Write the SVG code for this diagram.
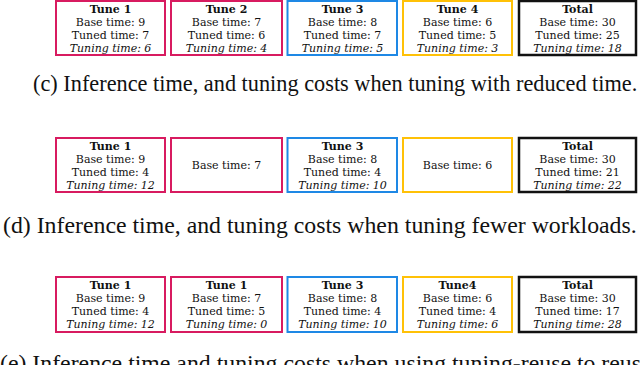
<svg xmlns="http://www.w3.org/2000/svg" width="640" height="365" viewBox="0 0 640 365">
<style>
.bx{fill:#fff;stroke-width:2}
.pk{stroke:#D81B60}
.bl{stroke:#1E88E5}
.yl{stroke:#FFC107}
.bk{stroke:#111;stroke-width:2.5}
.t{font-family:"DejaVu Serif",serif;font-size:11px;fill:#111;text-anchor:middle}
.h{font-weight:bold}
.i{font-style:italic}
.cap{font-family:"Liberation Serif","Times New Roman",serif;fill:#111}
</style>
<rect width="640" height="365" fill="#fff"/>
<g id="row-c">
<g id="c-tune1"><rect class="bx pk" x="56" y="1" width="109" height="54"/>
<text class="t h" x="110.5" y="12.5">Tune 1</text><text class="t" x="110.5" y="25.5">Base time: 9</text><text class="t" x="110.5" y="38.5">Tuned time: 7</text><text class="t i" x="110.5" y="51.5">Tuning time: 6</text></g>
<g id="c-tune2"><rect class="bx pk" x="171" y="1" width="111" height="54"/>
<text class="t h" x="226.5" y="12.5">Tune 2</text><text class="t" x="226.5" y="25.5">Base time: 7</text><text class="t" x="226.5" y="38.5">Tuned time: 6</text><text class="t i" x="226.5" y="51.5">Tuning time: 4</text></g>
<g id="c-tune3"><rect class="bx bl" x="287.5" y="1" width="109.5" height="54"/>
<text class="t h" x="342.5" y="12.5">Tune 3</text><text class="t" x="342.5" y="25.5">Base time: 8</text><text class="t" x="342.5" y="38.5">Tuned time: 7</text><text class="t i" x="342.5" y="51.5">Tuning time: 5</text></g>
<g id="c-tune4"><rect class="bx yl" x="403" y="1" width="109" height="54"/>
<text class="t h" x="457.5" y="12.5">Tune 4</text><text class="t" x="457.5" y="25.5">Base time: 6</text><text class="t" x="457.5" y="38.5">Tuned time: 5</text><text class="t i" x="457.5" y="51.5">Tuning time: 3</text></g>
<g id="c-total"><rect class="bx bk" x="519" y="1" width="117" height="54"/>
<text class="t h" x="577.5" y="12.5">Total</text><text class="t" x="577.5" y="25.5">Base time: 30</text><text class="t" x="577.5" y="38.5">Tuned time: 25</text><text class="t i" x="577.5" y="51.5">Tuning time: 18</text></g>
<text class="cap" x="33" y="91" font-size="22.3">(c) Inference time, and tuning costs when tuning with reduced time.</text>
</g>
<g id="row-d">
<g id="d-tune1"><rect class="bx pk" x="56" y="138" width="109" height="54"/>
<text class="t h" x="110.5" y="149.5">Tune 1</text><text class="t" x="110.5" y="162.5">Base time: 9</text><text class="t" x="110.5" y="175.5">Tuned time: 4</text><text class="t i" x="110.5" y="188.5">Tuning time: 12</text></g>
<g id="d-tune2"><rect class="bx pk" x="171" y="138" width="111" height="54"/>
<text class="t" x="226.5" y="168.5">Base time: 7</text></g>
<g id="d-tune3"><rect class="bx bl" x="287.5" y="138" width="109.5" height="54"/>
<text class="t h" x="342.5" y="149.5">Tune 3</text><text class="t" x="342.5" y="162.5">Base time: 8</text><text class="t" x="342.5" y="175.5">Tuned time: 4</text><text class="t i" x="342.5" y="188.5">Tuning time: 10</text></g>
<g id="d-tune4"><rect class="bx yl" x="403" y="138" width="109" height="54"/>
<text class="t" x="457.5" y="168.5">Base time: 6</text></g>
<g id="d-total"><rect class="bx bk" x="519" y="138" width="117" height="54"/>
<text class="t h" x="577.5" y="149.5">Total</text><text class="t" x="577.5" y="162.5">Base time: 30</text><text class="t" x="577.5" y="175.5">Tuned time: 21</text><text class="t i" x="577.5" y="188.5">Tuning time: 22</text></g>
<text class="cap" x="3" y="233" font-size="23.8">(d) Inference time, and tuning costs when tuning fewer workloads.</text>
</g>
<g id="row-e">
<g id="e-tune1"><rect class="bx pk" x="56" y="277" width="109" height="55"/>
<text class="t h" x="110.5" y="288.5">Tune 1</text><text class="t" x="110.5" y="301.5">Base time: 9</text><text class="t" x="110.5" y="314.5">Tuned time: 4</text><text class="t i" x="110.5" y="327.5">Tuning time: 12</text></g>
<g id="e-tune2"><rect class="bx pk" x="171" y="277" width="111" height="55"/>
<text class="t h" x="226.5" y="288.5">Tune 1</text><text class="t" x="226.5" y="301.5">Base time: 7</text><text class="t" x="226.5" y="314.5">Tuned time: 5</text><text class="t i" x="226.5" y="327.5">Tuning time: 0</text></g>
<g id="e-tune3"><rect class="bx bl" x="287.5" y="277" width="109.5" height="55"/>
<text class="t h" x="342.5" y="288.5">Tune 3</text><text class="t" x="342.5" y="301.5">Base time: 8</text><text class="t" x="342.5" y="314.5">Tuned time: 4</text><text class="t i" x="342.5" y="327.5">Tuning time: 10</text></g>
<g id="e-tune4"><rect class="bx yl" x="403" y="277" width="109" height="55"/>
<text class="t h" x="457.5" y="288.5">Tune4</text><text class="t" x="457.5" y="301.5">Base time: 6</text><text class="t" x="457.5" y="314.5">Tuned time: 4</text><text class="t i" x="457.5" y="327.5">Tuning time: 6</text></g>
<g id="e-total"><rect class="bx bk" x="519" y="277" width="117" height="55"/>
<text class="t h" x="577.5" y="288.5">Total</text><text class="t" x="577.5" y="301.5">Base time: 30</text><text class="t" x="577.5" y="314.5">Tuned time: 17</text><text class="t i" x="577.5" y="327.5">Tuning time: 28</text></g>
<text class="cap" x="0" y="371" font-size="23.8">(e) Inference time and tuning costs when using tuning-reuse to reuse</text>
</g>
</svg>
